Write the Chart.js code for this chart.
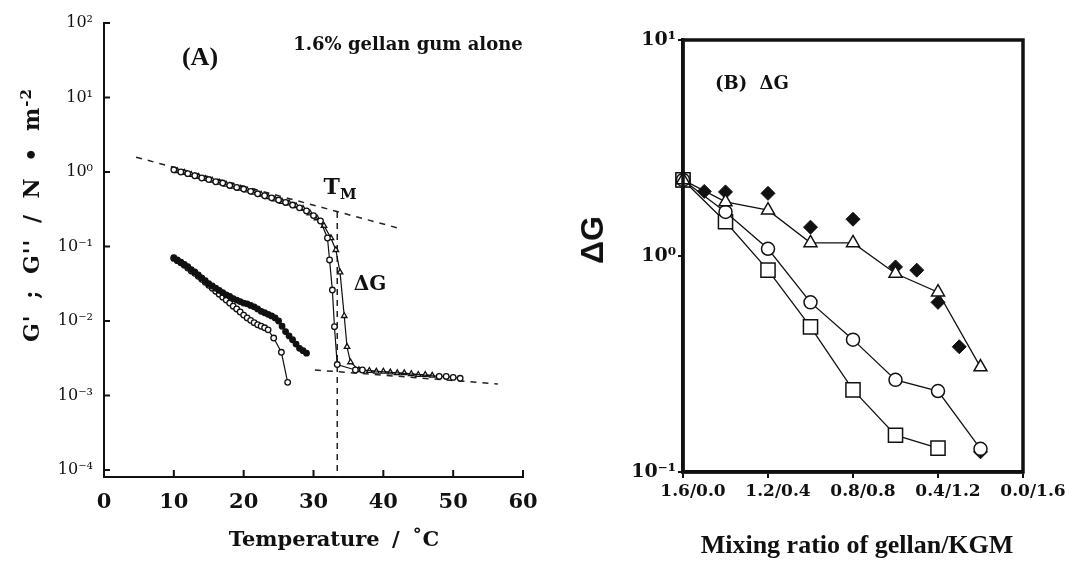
<!DOCTYPE html>
<html><head><meta charset="utf-8">
<script src="https://cdn.jsdelivr.net/npm/chart.js@4.4.1/dist/chart.umd.min.js"></script>
<style>
html,body{margin:0;padding:0;background:#fff;}
#wrap{position:relative;width:1074px;height:562px;overflow:hidden;background:#fff;}
.box{position:absolute;top:0;height:562px;}
#boxA{left:0;width:560px;}
#boxB{left:560px;width:514px;}
.lbl{position:absolute;transform:translate(-50%,-50%);white-space:nowrap;color:#111;line-height:1;}
.serif{font-family:'DejaVu Serif',serif;font-weight:bold;}
.times{font-family:'Liberation Serif','Times New Roman',serif;font-weight:bold;}
.sans{font-family:'Liberation Sans',Arial,sans-serif;font-weight:bold;}
.rot{transform:translate(-50%,-50%) rotate(-90deg);}
</style></head><body>
<div id="wrap">
  <div class="box" id="boxA"><canvas id="cA"></canvas></div>
  <div class="box" id="boxB"><canvas id="cB"></canvas></div>
  <div class="lbl times" style="left:200px;top:57px;font-size:26px;">(A)</div>
  <div class="lbl serif" style="left:408px;top:44px;font-size:18px;">1.6% gellan gum alone</div>
  <div class="lbl serif" style="left:340px;top:186px;font-size:22px;">T<span style="font-size:15px;position:relative;top:5px;">M</span></div>
  <div class="lbl serif" style="left:370px;top:283px;font-size:20px;">ΔG</div>
  <div class="lbl serif rot" style="left:31px;top:215px;font-size:22px;word-spacing:7px;letter-spacing:1px;">G' ; G'' / N • m<span style="font-size:15px;position:relative;top:-8px;">-2</span></div>
  <div class="lbl serif" style="left:334px;top:538px;font-size:21px;word-spacing:5px;">Temperature / ˚C</div>
  <div class="lbl serif" style="left:752px;top:83px;font-size:18px;word-spacing:6px;">(B) ΔG</div>
  <div class="lbl sans rot" style="left:592px;top:240px;font-size:32px;">ΔG</div>
  <div class="lbl times" style="left:857px;top:545px;font-size:26px;">Mixing ratio of gellan/KGM</div>
</div>
<script>
// ---------- Panel A data (temperature / °C, modulus / N m^-2) ----------
const gpOpenT = [10,11,12,13,14,15,16,17,18,19,20,21,22,23,24,25,26,27,28,29,30,31,32,32.3,32.7,33.0,33.4,36,37,48,49,50,51];
const gpOpenG = [1.07,1.0,0.95,0.89,0.83,0.79,0.74,0.71,0.66,0.62,0.59,0.55,0.51,0.48,0.45,0.42,0.39,0.36,0.33,0.30,0.26,0.22,0.13,0.066,0.026,0.0084,0.0026,0.0022,0.0022,0.0018,0.0018,0.00175,0.0017];
const gpTriT = [10.5,11.5,12.5,13.5,14.5,15.5,16.5,17.5,18.5,19.5,20.5,21.5,22.5,23.5,24.5,25.5,26.5,27.5,28.5,29.5,30.5,31.5,32.5,33.2,33.8,34.4,34.8,35.3,36.5,38,39,40,41,42,43,44,45,46,47];
const gpTriG = [1.03,0.98,0.92,0.86,0.81,0.77,0.72,0.68,0.64,0.60,0.57,0.53,0.50,0.46,0.43,0.40,0.38,0.35,0.32,0.28,0.24,0.19,0.13,0.09,0.045,0.0117,0.0045,0.0028,0.0022,0.00215,0.0021,0.0021,0.00205,0.002,0.002,0.00195,0.0019,0.0019,0.00185];
const gppFilledT = [10,10.5,11,11.5,12,12.5,13,13.5,14,14.5,15,15.5,16,16.5,17,17.5,18,18.5,19,19.5,20,20.5,21,21.5,22,22.5,23,23.5,24,24.5,25,25.5,26,26.5,27,27.5,28,28.5,29];
const gppFilledG = [0.0708,0.0661,0.0617,0.0575,0.0537,0.0490,0.0457,0.0417,0.0380,0.0347,0.0316,0.0295,0.0275,0.0257,0.0240,0.0224,0.0214,0.0200,0.0191,0.0182,0.0174,0.0170,0.0162,0.0155,0.0145,0.0135,0.0129,0.0123,0.0117,0.0110,0.0100,0.0085,0.0072,0.0063,0.0056,0.0049,0.0043,0.0040,0.0037];
const gppOpenT = [10,10.5,11,11.5,12,12.5,13,13.5,14,14.5,15,15.5,16,16.5,17,17.5,18,18.5,19,19.5,20,20.5,21,21.5,22,22.5,23,23.5,24.3,25.4,26.3];
const gppOpenG = [0.0692,0.0646,0.0603,0.0562,0.0513,0.0468,0.0437,0.0398,0.0363,0.0331,0.0302,0.0275,0.0251,0.0229,0.0209,0.0191,0.0174,0.0158,0.0145,0.0132,0.0120,0.0110,0.0102,0.0095,0.0089,0.0085,0.0081,0.0076,0.0059,0.0038,0.0015];
const dashUpperT = [4.6, 42.1];
const dashUpperG = [1.58, 0.177];
const dashLowerT = [30.2, 56.4];
const dashLowerG = [0.0022, 0.00143];
const tmT = [33.4, 33.4];
const tmG = [0.29, 8.05e-5];
const xTickValsA = [0,10,20,30,40,50,60];
const xTickLabelsA = ['0','10','20','30','40','50','60'];
const yTickValsA = [1e-4,1e-3,1e-2,1e-1,1e0,1e1,1e2];
const yTickLabelsA = ['10⁻⁴','10⁻³','10⁻²','10⁻¹','10⁰','10¹','10²'];

// ---------- Panel B data (gellan content of gellan/KGM mix, ΔG) ----------
const gellanB = [1.6,1.4,1.2,1.0,0.8,0.6,0.4,0.2];
const triB = [2.25,1.78,1.63,1.15,1.15,0.83,0.68,0.306];
const circB = [2.25,1.6,1.08,0.61,0.41,0.267,0.237,0.128];
const gellanSq = [1.6,1.4,1.2,1.0,0.8,0.6,0.4];
const sqB = [2.25,1.44,0.86,0.47,0.24,0.148,0.129];
const gellanDia = [1.5,1.4,1.2,1.0,0.8,0.6,0.5,0.4,0.3,0.2];
const diaB = [1.99,1.98,1.95,1.36,1.48,0.89,0.86,0.61,0.38,0.124];
const startX = [1.6];
const startB = [2.25];
const xTickValsB = [1.6,1.2,0.8,0.4,0.0];
const xTickLabelsB = ['1.6/0.0','1.2/0.4','0.8/0.8','0.4/1.2','0.0/1.6'];
const yTickValsB = [0.1,1,10];
const yTickLabelsB = ['10⁻¹','10⁰','10¹'];

const pts = (xs, ys) => xs.map((x, i) => ({x: x, y: ys[i]}));
const lookup = (vals, labels) => (v) => {
  const i = vals.findIndex(t => Math.abs(t - v) < 1e-9 || Math.abs(t - v) / Math.max(Math.abs(t), 1e-12) < 1e-6);
  return i >= 0 ? labels[i] : '';
};

// ---------- Panel A ----------
const inwardTicks = {
  id: 'inwardTicks',
  afterDraw(chart) {
    const {ctx, chartArea: a, scales} = chart;
    ctx.save();
    ctx.strokeStyle = '#111';
    ctx.lineWidth = 2;
    scales.x.ticks.forEach(t => {
      const px = scales.x.getPixelForValue(t.value);
      ctx.beginPath(); ctx.moveTo(px, a.bottom); ctx.lineTo(px, a.bottom - 7); ctx.stroke();
    });
    scales.y.ticks.forEach(t => {
      const py = scales.y.getPixelForValue(t.value);
      ctx.beginPath(); ctx.moveTo(a.left, py); ctx.lineTo(a.left + 6, py); ctx.stroke();
    });
    ctx.restore();
  }
};
const smallOpen = {pointRadius: 2.8, pointBorderWidth: 1.3, pointBackgroundColor: '#fff', pointBorderColor: '#111'};
new Chart(document.getElementById('cA'), {
  type: 'scatter',
  data: {datasets: [
    {label: "G' (○)", data: pts(gpOpenT, gpOpenG), showLine: true, borderColor: '#111', borderWidth: 1.2, pointStyle: 'circle', ...smallOpen, clip: false},
    {label: "G' (△)", data: pts(gpTriT, gpTriG), showLine: true, borderColor: '#111', borderWidth: 1.2, pointStyle: 'triangle', pointRadius: 3.2, pointBorderWidth: 1.3, pointBackgroundColor: '#fff', pointBorderColor: '#111', clip: false},
    {label: "G'' (●)", data: pts(gppFilledT, gppFilledG), showLine: true, borderColor: '#111', borderWidth: 1.2, pointStyle: 'circle', pointRadius: 2.8, pointBackgroundColor: '#111', pointBorderColor: '#111', clip: false},
    {label: "G'' (○)", data: pts(gppOpenT, gppOpenG), showLine: true, borderColor: '#111', borderWidth: 1.2, pointStyle: 'circle', ...smallOpen, clip: false},
    {label: 'upper baseline', data: pts(dashUpperT, dashUpperG), showLine: true, borderColor: '#222', borderWidth: 1.5, borderDash: [6, 6], pointRadius: 0, clip: false},
    {label: 'lower baseline', data: pts(dashLowerT, dashLowerG), showLine: true, borderColor: '#222', borderWidth: 1.5, borderDash: [6, 6], pointRadius: 0, clip: false},
    {label: 'TM', data: pts(tmT, tmG), showLine: true, borderColor: '#222', borderWidth: 1.5, borderDash: [6, 5], pointRadius: 0, clip: false}
  ]},
  options: {
    responsive: true, maintainAspectRatio: false, animation: false, devicePixelRatio: 1,
    layout: {padding: {left: 0, right: 37, top: 23, bottom: 0}},
    plugins: {legend: {display: false}, tooltip: {enabled: false}},
    scales: {
      x: {type: 'linear', min: 0, max: 60,
        afterBuildTicks: s => { s.ticks = xTickValsA.map(v => ({value: v})); },
        afterFit: s => { s.height = 85; },
        grid: {display: false}, border: {display: true, color: '#111', width: 2},
        ticks: {callback: lookup(xTickValsA, xTickLabelsA), color: '#111', padding: 5, maxRotation: 0, autoSkip: false,
          font: {family: "'DejaVu Serif', serif", size: 21, weight: 'bold'}}},
      y: {type: 'logarithmic', min: 8.05e-5, max: 100,
        afterBuildTicks: s => { s.ticks = yTickValsA.map(v => ({value: v})); },
        afterFit: s => { s.width = 104; },
        grid: {display: false}, border: {display: true, color: '#111', width: 2},
        ticks: {callback: lookup(yTickValsA, yTickLabelsA), color: '#111', padding: 3, autoSkip: false,
          font: {family: "'DejaVu Serif', serif", size: 16, weight: 'normal'}}}
    }
  },
  plugins: [inwardTicks]
});

// ---------- Panel B ----------
const frame = {
  id: 'frame',
  afterDraw(chart) {
    const {ctx, chartArea: a} = chart;
    ctx.save();
    ctx.strokeStyle = '#111';
    ctx.lineWidth = 3.5;
    ctx.strokeRect(a.left, a.top, a.right - a.left, a.bottom - a.top);
    ctx.restore();
  }
};
new Chart(document.getElementById('cB'), {
  type: 'scatter',
  data: {datasets: [
    {label: '△', data: pts(gellanB, triB), showLine: true, borderColor: '#111', borderWidth: 1.3, pointStyle: 'triangle', pointRadius: 7.5, pointBorderWidth: 1.5, pointBackgroundColor: '#fff', pointBorderColor: '#111', clip: false},
    {label: '○', data: pts(gellanB, circB), showLine: true, borderColor: '#111', borderWidth: 1.3, pointStyle: 'circle', pointRadius: 6.5, pointBorderWidth: 1.5, pointBackgroundColor: '#fff', pointBorderColor: '#111', clip: false},
    {label: '□', data: pts(gellanSq, sqB), showLine: true, borderColor: '#111', borderWidth: 1.3, pointStyle: 'rect', pointRadius: 10, pointBorderWidth: 1.5, pointBackgroundColor: '#fff', pointBorderColor: '#111', clip: false},
    {label: '◆', data: pts(gellanDia, diaB), showLine: false, pointStyle: 'rectRot', pointRadius: 7, pointBorderWidth: 1, pointBackgroundColor: '#111', pointBorderColor: '#111', clip: false},
    {label: '■', data: pts(startX, startB), showLine: false, pointStyle: 'rect', pointRadius: 10, pointBorderWidth: 1, pointBackgroundColor: '#111', pointBorderColor: '#111', clip: false}
  ]},
  options: {
    responsive: true, maintainAspectRatio: false, animation: false, devicePixelRatio: 1,
    layout: {padding: {left: 0, right: 51, top: 40, bottom: 0}},
    plugins: {legend: {display: false}, tooltip: {enabled: false}},
    scales: {
      x: {type: 'linear', min: 0, max: 1.6, reverse: true,
        afterBuildTicks: s => { s.ticks = xTickValsB.slice().reverse().map(v => ({value: v})); },
        afterFit: s => { s.height = 90; },
        grid: {display: true, drawOnChartArea: false, drawTicks: true, tickLength: 6, color: '#111', lineWidth: 2},
        border: {display: true, color: '#111', width: 3.5},
        ticks: {callback: lookup(xTickValsB, xTickLabelsB), color: '#111', padding: 3, labelOffset: 10, maxRotation: 0, autoSkip: false,
          font: {family: "'DejaVu Serif', serif", size: 17, weight: 'bold'}}},
      y: {type: 'logarithmic', min: 0.1, max: 10,
        afterBuildTicks: s => { s.ticks = yTickValsB.map(v => ({value: v})); },
        afterFit: s => { s.width = 123; },
        grid: {display: true, drawOnChartArea: false, drawTicks: true, tickLength: 5, color: '#111', lineWidth: 2},
        border: {display: true, color: '#111', width: 3.5},
        ticks: {callback: lookup(yTickValsB, yTickLabelsB), color: '#111', padding: 2, autoSkip: false,
          font: {family: "'DejaVu Serif', serif", size: 19, weight: 'bold'}}}
    }
  },
  plugins: [frame]
});
</script>
</body></html>
